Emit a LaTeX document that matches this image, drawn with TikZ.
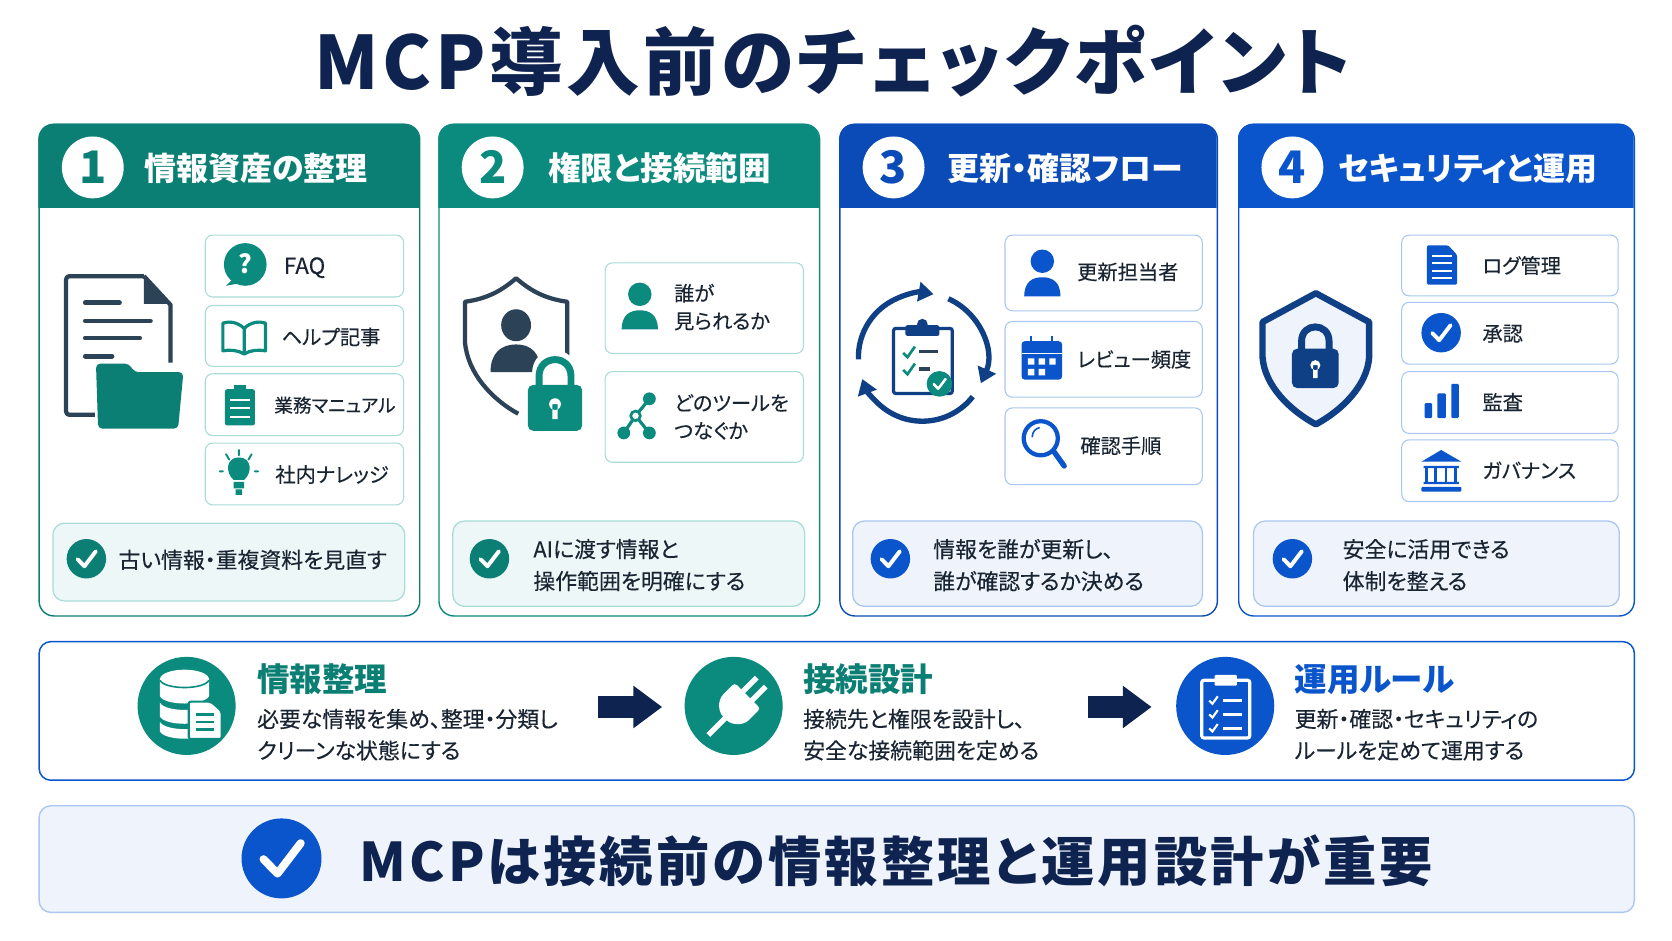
\documentclass[tikz,border=0pt]{standalone}
\usepackage{fontspec}
\setmainfont[RawFeature=+palt]{Noto Sans CJK JP}
\newfontfamily\bodyfont[RawFeature=+palt,FakeBold=0.25]{Noto Sans CJK JP}
\usetikzlibrary{arrows.meta}
\usepackage{xcolor}
\definecolor{navy}{HTML}{0F2350}
\definecolor{ink}{HTML}{1A2533}
\definecolor{slate}{HTML}{2C4257}
\definecolor{tealA}{HTML}{0B7F74}
\definecolor{tealB}{HTML}{0B8A7E}
\definecolor{tealLine}{HTML}{A8DCD8}
\definecolor{tealPale}{HTML}{EEF7F7}
\definecolor{blueA}{HTML}{0A4BB8}
\definecolor{blueB}{HTML}{0A55CC}
\definecolor{blueLine}{HTML}{A9C7F0}
\definecolor{bluePale}{HTML}{EEF3FC}
\definecolor{shieldblue}{HTML}{0F3F85}
\newcommand{\chkicon}[4]{\fill[#4] (#1,#2) circle[radius=#3];
  \draw[white,line width=0.2*#3 pt,line cap=round,line join=round] ({#1-0.45*#3},{#2+0.02*#3}) -- ({#1-0.1*#3},{#2+0.38*#3}) -- ({#1+0.48*#3},{#2-0.38*#3});}
\tikzset{
  panel/.style={draw=#1,line width=1.3pt,rounded corners=14pt,fill=white,anchor=north west,inner sep=0pt},
  itembox/.style={draw=#1,line width=1pt,rounded corners=7pt,fill=white,anchor=north west,inner sep=0pt},
  notebox/.style={draw=#1,line width=1.2pt,rounded corners=11pt,anchor=north west,inner sep=0pt},
  numdisc/.style={circle,fill=white,minimum size=58pt,inner sep=0pt,text=#1,font=\bfseries\fontsize{42}{42}\selectfont},
  headtxt/.style={anchor=west,text=white,inner sep=0pt,font=\bfseries\fontsize{#1}{#1}\selectfont},
  itemtxt/.style={anchor=west,text=ink,inner sep=0pt,align=left,font=\bodyfont\fontsize{19}{26}\selectfont},
  notetxt/.style={anchor=west,text=ink,inner sep=0pt,align=left,font=\bodyfont\fontsize{20.5}{30}\selectfont},
  flowhead/.style={anchor=west,text=#1,inner sep=0pt,font=\bfseries\fontsize{30.5}{31}\selectfont},
  flowtxt/.style={anchor=west,text=ink,inner sep=0pt,align=left,font=\bodyfont\fontsize{20.5}{29.5}\selectfont},
  flowdisc/.style={circle,fill=#1,minimum size=92pt,inner sep=0pt},
  flowarrow/.style={navy,line width=20pt,-{Triangle[length=27pt,width=38pt]}},
  person/.pic={
    \fill (0,0) circle[radius=11];
    \fill (-17,33) .. controls (-17,19) and (-9,15) .. (0,15) .. controls (9,15) and (17,19) .. (17,33) -- cycle;
  },
  padlock/.pic={
    \draw[line width=6.5pt,fill=none] (-15,2) -- (-15,-8) .. controls (-15,-29) and (15,-29) .. (15,-8) -- (15,2);
    \fill[rounded corners=5pt] (-25.5,0) rectangle (25.5,43);
    \fill[white] (0,18) circle[radius=5.5] (-2.5,18) rectangle (2.5,32);
  }
}
\begin{document}
\begin{tikzpicture}[x=1pt,y=-1pt]
\useasboundingbox (0,0) rectangle (1568,882.4);
\node[text=navy,inner sep=0pt,font=\bfseries\fontsize{69}{69}\selectfont\addfontfeature{LetterSpace=5}] (title) at (781,57) {MCP導入前のチェックポイント};

% panels
\node[panel=tealA,minimum width=357pt,minimum height=461pt] (panelA) at (36,116) {};
\node[panel=tealB,minimum width=357pt,minimum height=461pt] (panelB) at (411,116) {};
\node[panel=blueA,minimum width=354pt,minimum height=461pt] (panelC) at (787,116) {};
\node[panel=blueB,minimum width=371pt,minimum height=461pt] (panelD) at (1161,116) {};
\fill[tealA] (36,195) {[rounded corners=14pt] -- (36,116) -- (393,116)} -- (393,195) -- cycle;
\fill[tealB] (411,195) {[rounded corners=14pt] -- (411,116) -- (768,116)} -- (768,195) -- cycle;
\fill[blueA] (787,195) {[rounded corners=14pt] -- (787,116) -- (1141,116)} -- (1141,195) -- cycle;
\fill[blueB] (1161,195) {[rounded corners=14pt] -- (1161,116) -- (1532,116)} -- (1532,195) -- cycle;
\node[numdisc=tealA] (numA) at (87,157) {1};
\node[numdisc=tealB] (numB) at (462,157) {2};
\node[numdisc=blueA] (numC) at (838,157) {3};
\node[numdisc=blueB] (numD) at (1212,157) {4};
\node[headtxt=30] (headA) at (135,158) {情報資産の整理};
\node[headtxt=30.5] (headB) at (514,158) {権限と接続範囲};
\node[headtxt=30] (headC) at (888,158) {更新・確認フロー};
\node[headtxt=30] (headD) at (1255,158) {セキュリティと運用};

% panel 1
\node[itembox=tealLine,minimum width=186pt,minimum height=58pt] (faq) at (192,220) {};
\node[itembox=tealLine,minimum width=186pt,minimum height=57pt] (help) at (192,286) {};
\node[itembox=tealLine,minimum width=186pt,minimum height=58pt] (manual) at (192,350) {};
\node[itembox=tealLine,minimum width=186pt,minimum height=58pt] (know) at (192,415) {};
\node[itemtxt,font=\bodyfont\fontsize{21}{21}\selectfont] (faqtxt) at (266,251) {FAQ};
\node[itemtxt] (helptxt) at (264,316) {ヘルプ記事};
\node[itemtxt,font=\bodyfont\fontsize{17.5}{17.5}\selectfont] (manualtxt) at (257,380) {業務マニュアル};
\node[itemtxt] (knowtxt) at (258,445) {社内ナレッジ};
% document with folder
\draw[slate,line width=4pt,line join=round,rounded corners=3pt] (89,389) -- (62,389) -- (62,259) -- (135,259);
\draw[slate,line width=4pt,line join=round] (135,259) -- (160,286) -- (160,340);
\fill[slate] (135,258) -- (161,285) -- (135,285) -- cycle;
\draw[slate,line width=4.5pt,line cap=round] (80,284) -- (112,284) (80,301) -- (141,301) (80,317) -- (131,317) (80,334) -- (105,334);
\fill[tealA,rounded corners=4pt] (92,402) -- (90,341) -- (121,341) -- (126,349) -- (172,349) -- (167,402) -- cycle;
% FAQ bubble
\fill[tealB] (230,248) circle[radius=20];
\fill[tealB] (218,262) -- (212,268) -- (228,265) -- cycle;
\node[text=white,inner sep=0pt,font=\bfseries\fontsize{24}{24}\selectfont] (faqmark) at (230,247) {?};
% book
\draw[tealB,line width=3pt,line join=round] (229,308) .. controls (223,302) and (215,301) .. (209,303) -- (209,329) .. controls (215,328) and (223,328) .. (229,332) .. controls (235,328) and (243,328) .. (249,329) -- (249,303) .. controls (243,301) and (235,302) .. (229,308) -- (229,332);
% clipboard
\fill[tealB,rounded corners=2pt] (211,365) rectangle (239,399);
\fill[tealB] (219,361) rectangle (231,369);
\draw[white,line width=2pt] (216,375) -- (234,375) (216,383) -- (234,383) (216,391) -- (234,391);
% bulb
\fill[tealB] (224,429) .. controls (236,429) and (237,443) .. (229,450) -- (219,450) .. controls (211,443) and (212,429) .. (224,429) -- cycle;
\fill[tealB] (219,452) rectangle (229,458) (221,459) rectangle (227,464);
\draw[tealB,line width=1.8pt,line cap=round] (224,422) -- (224,427) (212,426) -- (215,431) (236,426) -- (233,431) (206,442) -- (209,442) (239,442) -- (242,442);

\node[notebox=tealLine,fill=tealPale,minimum width=330pt,minimum height=73pt] (noteA) at (49,490) {};
\chkicon{81}{524}{18.5}{tealA}
\node[notetxt] (noteAtxt) at (111,525) {古い情報・重複資料を見直す};

% panel 2
\node[itembox=tealLine,minimum width=186pt,minimum height=85pt] (who) at (567,246) {};
\node[itembox=tealLine,minimum width=186pt,minimum height=85pt] (tool) at (567,348) {};
\node[itemtxt] (whotxt) at (632,288) {誰が\\見られるか};
\node[itemtxt] (tooltxt) at (632,391) {どのツールを\\つなぐか};
% shield with person and lock
\draw[slate,line width=4pt,line join=round] (532,340) -- (532,283) .. controls (510,280) and (497,272) .. (484,261) .. controls (471,272) and (458,280) .. (436,283) -- (436,320) .. controls (438,350) and (462,375) .. (486,388);
\fill[slate] (484,305) ellipse[x radius=14,y radius=15];
\fill[slate] (460,349) .. controls (460,331) and (470,323) .. (484,323) .. controls (498,323) and (507,331) .. (507,349) -- cycle;
\draw[white,line width=12pt] (505,362) -- (505,350) .. controls (505,329) and (535,329) .. (535,350) -- (535,362);
\fill[white] (490,358) rectangle (551,409);
\pic[tealB] at (520.5,361) {padlock};
\pic[tealB] at (600,276) {person};
% network
\draw[tealB,line width=3pt] (609,374) -- (596,390) -- (585,406) (596,390) -- (609,406);
\fill[tealB] (609,374) circle[radius=6] (585,406) circle[radius=6] (609,406) circle[radius=6];
\filldraw[fill=white,draw=tealB,line width=2.5pt] (596,390) circle[radius=4.5];

\node[notebox=tealLine,fill=tealPale,minimum width=330pt,minimum height=80pt] (noteB) at (424,488) {};
\chkicon{459}{524}{18.5}{tealA}
\node[notetxt] (noteBtxt) at (500,530) {AIに渡す情報と\\操作範囲を明確にする};

% panel 3
\node[itembox=blueLine,minimum width=185pt,minimum height=71pt] (owner) at (942,220) {};
\node[itembox=blueLine,minimum width=185pt,minimum height=71pt] (review) at (942,301) {};
\node[itembox=blueLine,minimum width=185pt,minimum height=72pt] (proc) at (942,382) {};
\node[itemtxt] (ownertxt) at (1010,255) {更新担当者};
\node[itemtxt] (reviewtxt) at (1010,337) {レビュー頻度};
\node[itemtxt] (proctxt) at (1013,418) {確認手順};
% cycle with clipboard
\draw[shieldblue,line width=5pt,-{Triangle[length=14pt,width=18pt]}] (865,335) ++(-182:60) arc[start angle=-182,end angle=-80,radius=60];
\draw[shieldblue,line width=5pt,-{Triangle[length=14pt,width=18pt]}] (865,335) ++(-66:60) arc[start angle=-66,end angle=24,radius=60];
\draw[shieldblue,line width=5pt,-{Triangle[length=14pt,width=18pt]}] (865,335) ++(38:60) arc[start angle=38,end angle=160,radius=60];
\draw[shieldblue,line width=3pt,rounded corners=2pt] (838,308) rectangle (893,369);
\fill[shieldblue,rounded corners=2pt] (849,305) rectangle (881,315);
\fill[shieldblue] (865,304) circle[radius=5];
\draw[tealB,line width=2.5pt] (847,331) -- (851,335) -- (858,325);
\draw[tealB,line width=2.5pt] (847,347) -- (851,351) -- (858,341);
\draw[slate,line width=3pt] (862,330) -- (880,330) (862,346) -- (872,346);
\chkicon{881}{360}{12}{tealB}

\pic[blueB] at (977.5,245) {person};
% calendar
\fill[blueB,rounded corners=3pt] (958,320) rectangle (996,356);
\fill[white] (958,331) rectangle (996,332);
\fill[white] (964,336) rectangle (970,342) (974,336) rectangle (980,342) (984,336) rectangle (990,342) (964,346) rectangle (970,352) (974,346) rectangle (980,352);
\draw[blueB,line width=2pt] (966.5,315) -- (966.5,322) (986.5,315) -- (986.5,322);
% magnifier
\draw[blueB,line width=4pt] (976,411) circle[radius=16];
\draw[blueB,line width=5pt,line cap=round] (988,423) -- (998,437);
\draw[blueB,line width=1.5pt] (968,410) .. controls (968,405) and (971,402) .. (975,401);

\node[notebox=blueLine,fill=bluePale,minimum width=328pt,minimum height=80pt] (noteC) at (799,488) {};
\chkicon{835}{524}{18.5}{blueB}
\node[notetxt] (noteCtxt) at (875,530) {情報を誰が更新し、\\誰が確認するか決める};

% panel 4
\node[itembox=blueLine,minimum width=203pt,minimum height=57pt] (logs) at (1314,220) {};
\node[itembox=blueLine,minimum width=203pt,minimum height=58pt] (appr) at (1314,283) {};
\node[itembox=blueLine,minimum width=203pt,minimum height=58pt] (audit) at (1314,348) {};
\node[itembox=blueLine,minimum width=203pt,minimum height=58pt] (gov) at (1314,412) {};
\node[itemtxt] (logstxt) at (1390,249) {ログ管理};
\node[itemtxt] (apprtxt) at (1390,313) {承認};
\node[itemtxt] (audittxt) at (1390,377) {監査};
\node[itemtxt] (govtxt) at (1390,441) {ガバナンス};
% shield with lock
\filldraw[fill=bluePale,draw=shieldblue,line width=6pt,line join=round] (1234,275) -- (1284,302) -- (1284,335) .. controls (1282,362) and (1258,385) .. (1234,398) .. controls (1210,385) and (1186,362) .. (1184,335) -- (1184,302) -- cycle;
\pic[shieldblue,scale=0.86] at (1233.5,327) {padlock};
% log sheet
\fill[blueB,rounded corners=1.5pt] (1338,230) -- (1358,230) -- (1366.5,239) -- (1366.5,267) -- (1338,267) -- cycle;
\draw[white,line width=2pt] (1343,240) -- (1362,240) (1343,247) -- (1362,247) (1343,254) -- (1362,254) (1343,261) -- (1362,261);
\chkicon{1351.5}{312}{18.5}{blueB}
% bars
\fill[blueB,rounded corners=1pt] (1336,378) rectangle (1343,392) (1348,369) rectangle (1356,392) (1361,360) rectangle (1368,392);
% institution
\fill[blueB] (1351.5,422) -- (1370.5,433) -- (1333,433) -- cycle;
\fill[blueB] (1335,437) rectangle (1368,439) (1335,452) rectangle (1368,454);
\draw[blueB,line width=2.5pt] (1338,439) -- (1338,452) (1346.5,439) -- (1346.5,452) (1356,439) -- (1356,452) (1365,439) -- (1365,452);
\fill[blueB,rounded corners=1pt] (1333,456.5) rectangle (1370.5,461);

\node[notebox=blueLine,fill=bluePale,minimum width=343pt,minimum height=80pt] (noteD) at (1175,488) {};
\chkicon{1212}{524}{18.5}{blueB}
\node[notetxt] (noteDtxt) at (1259,530) {安全に活用できる\\体制を整える};

% flow band
\node[notebox=blueB,line width=1.4pt,fill=white,minimum width=1496pt,minimum height=130pt] (flowband) at (36,601) {};
\node[flowdisc=tealB] (flowA) at (175,662) {};
\node[flowdisc=tealB] (flowB) at (688,662) {};
\node[flowdisc=blueB] (flowC) at (1149,662) {};
\node[flowhead=tealA] (flowAhead) at (241,637) {情報整理};
\node[flowhead=tealA] (flowBhead) at (753,637) {接続設計};
\node[flowhead=blueB] (flowChead) at (1214,637) {運用ルール};
\node[flowtxt] (flowAtxt) at (241,689) {必要な情報を集め、整理・分類し\\クリーンな状態にする};
\node[flowtxt] (flowBtxt) at (753,689) {接続先と権限を設計し、\\安全な接続範囲を定める};
\node[flowtxt] (flowCtxt) at (1214,689) {更新・確認・セキュリティの\\ルールを定めて運用する};
\coordinate (arrowAin) at (561,663);
\coordinate (arrowAout) at (621,663);
\coordinate (arrowBin) at (1020,663);
\coordinate (arrowBout) at (1080,663);
\draw[flowarrow] (arrowAin) -- (arrowAout);
\draw[flowarrow] (arrowBin) -- (arrowBout);
% database
\fill[white] (150,637) -- (150,653) .. controls (155,662) and (191,662) .. (196,653) -- (196,637) -- cycle;
\fill[white] (173,637) ellipse[x radius=23,y radius=9];
\draw[tealB,line width=1.5pt] (150,638) .. controls (155,647) and (191,647) .. (196,638);
\fill[white] (150,659) .. controls (155,668) and (191,668) .. (196,659) -- (196,672) .. controls (191,681) and (155,681) .. (150,672) -- cycle;
\fill[white] (150,677) .. controls (155,686) and (191,686) .. (196,677) -- (196,686) .. controls (191,695) and (155,695) .. (150,686) -- cycle;
\filldraw[fill=white,draw=tealB,line width=2pt,rounded corners=2pt] (177,658) -- (198,658) -- (208,667) -- (208,693) -- (177,693) -- cycle;
\draw[tealB,line width=2.5pt] (184,670) -- (201,670) (184,677) -- (201,677) (184,684) -- (201,684);
% plug
\begin{scope}[shift={(688,662)},rotate=-45]
\fill[white] (-6,-34) rectangle (-1,-14) (6,-34) rectangle (11,-14);
\fill[white,xshift=2.5pt,rounded corners=3pt] (-17,-16) -- (17,-16) -- (17,-4) .. controls (17,8) and (8,14) .. (0,14) .. controls (-8,14) and (-17,8) .. (-17,-4) -- cycle;
\draw[white,line width=5pt,xshift=2.5pt] (0,14) -- (0,36);
\end{scope}
% clipboard
\draw[white,line width=3pt,rounded corners=2pt] (1127,638) rectangle (1172,692);
\fill[white,rounded corners=1pt] (1139,633) rectangle (1160,643);
\draw[white,line width=2pt] (1134,657) -- (1137,660) -- (1142,653) (1134,670) -- (1137,673) -- (1142,666) (1134,683) -- (1137,686) -- (1142,679);
\draw[white,line width=2.5pt] (1147,657) -- (1165,657) (1147,670) -- (1165,670) (1147,683) -- (1165,683);

% takeaway
\node[notebox=blueLine,line width=1.3pt,fill=bluePale,minimum width=1496pt,minimum height=100pt] (takeaway) at (36,755) {};
\chkicon{264}{805}{37.5}{blueB}
\node[anchor=west,text=navy,inner sep=0pt,font=\bfseries\fontsize{50}{50}\selectfont\addfontfeature{LetterSpace=5.8}] (takeawaytxt) at (337,807) {MCPは接続前の情報整理と運用設計が重要};
\end{tikzpicture}
\end{document}
